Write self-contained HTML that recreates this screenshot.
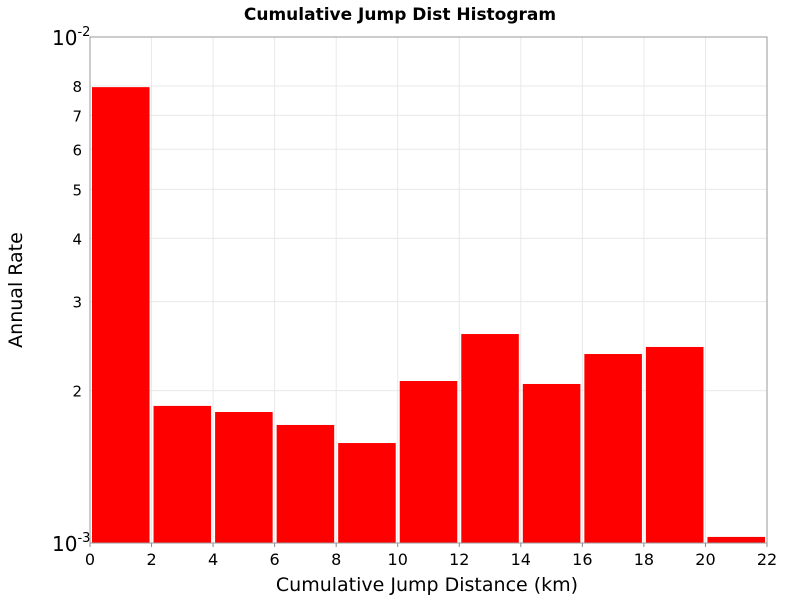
<!DOCTYPE html>
<html><head><meta charset="utf-8"><style>
body{margin:0;background:#fff;font-family:"Liberation Sans","DejaVu Sans",sans-serif}
</style></head><body>
<svg id="c" width="800" height="600" xmlns="http://www.w3.org/2000/svg">
<rect width="800" height="600" fill="#fff"/>
<text x="400" y="20" text-anchor="middle" font-size="17" font-weight="bold" font-family="DejaVu Sans, sans-serif">Cumulative Jump Dist Histogram</text>
<g id="grid"></g><g id="bars"></g><g id="axes"></g>
<text x="427" y="591" text-anchor="middle" font-size="19" font-family="DejaVu Sans, sans-serif">Cumulative Jump Distance (km)</text>
<text transform="translate(22,290) rotate(-90)" text-anchor="middle" font-size="19" font-family="DejaVu Sans, sans-serif">Annual Rate</text>
</svg>
<script>
const binStarts=[0,2,4,6,8,10,12,14,16,18,20];
const rates=[0.00796,0.001866,0.001815,0.001711,0.001576,0.00209,0.002588,0.002062,0.002363,0.00244,0.001028];
const xTicks=[0,2,4,6,8,10,12,14,16,18,20,22];
const yMinor=[2,3,4,5,6,7,8];
const L=90,R=767,T=37,B=543;
const NS="http://www.w3.org/2000/svg";
const xs=v=>L+(v/22)*(R-L);
const ys=v=>B-(Math.log10(v)+3)*(B-T);
function mk(t,a,p){const e=document.createElementNS(NS,t);for(const k in a)e.setAttribute(k,a[k]);p.appendChild(e);return e;}
const grid=document.getElementById('grid'),bars=document.getElementById('bars'),axes=document.getElementById('axes');
xTicks.forEach(t=>{
 const l=mk('line',{x1:xs(t),x2:xs(t),y1:T,y2:B,stroke:'#e8e8e8'},grid);
 
 
 const tx=mk('text',{x:xs(t),y:B+22,'text-anchor':'middle','font-size':16,'font-family':'DejaVu Sans, sans-serif'},axes);
 tx.textContent=t;
 
 
 mk('line',{x1:xs(t),x2:xs(t),y1:B,y2:B+4,stroke:'#888'},axes);
});
yMinor.forEach(m=>{
 const y=ys(m*0.001);
 const l=mk('line',{x1:L,x2:R,y1:y,y2:y,stroke:'#e8e8e8'},grid);
 
 
 const tx=mk('text',{x:L-8,y:y+6,'text-anchor':'end','font-size':15,'font-family':'DejaVu Sans, sans-serif'},axes);
 tx.textContent=m;
 
 
});
[[T,'-2'],[B,'-3']].forEach(([y,e])=>{
 const tx=mk('text',{x:52,y:y+8,'font-size':20,'font-family':'DejaVu Sans, sans-serif'},axes);
 tx.innerHTML='10<tspan dy="-9" font-size="13">'+e+'</tspan>';
 
 
});
binStarts.forEach((s,i)=>{
 const x0=xs(s)+2,x1=xs(s+2)-2,y=ys(rates[i]);
 const r=mk('rect',{x:x0,y:y,width:x1-x0,height:B-y,fill:'#ff0000'},bars);
 
 
});
const f=mk('rect',{x:L,y:T,width:R-L,height:B-T,fill:'none',stroke:'#999'},axes);


</script>
</body></html>
